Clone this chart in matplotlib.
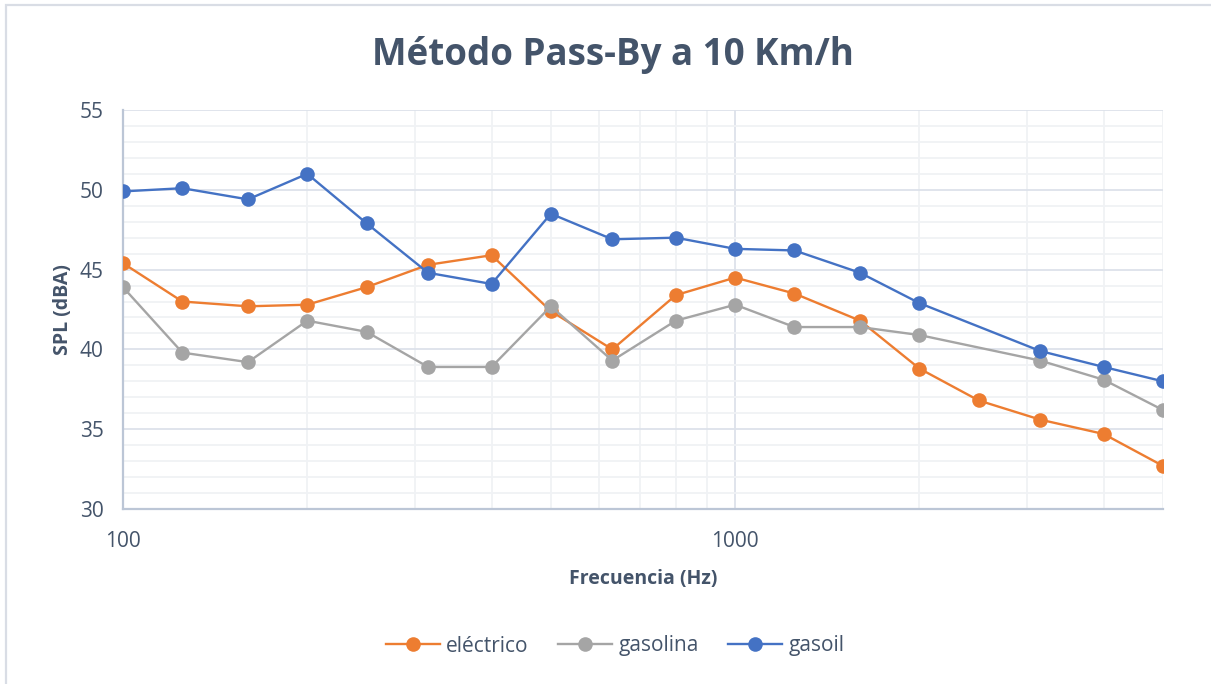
import matplotlib
matplotlib.use("Agg")
import matplotlib.pyplot as plt
from matplotlib.ticker import FixedLocator, NullFormatter, FixedFormatter
from matplotlib.patches import Rectangle

# Third-octave band centres (Hz) and sound pressure levels (dBA)
freq_electrico = [100, 125, 160, 200, 250, 315, 400, 500, 630, 800, 1000,
                  1250, 1600, 2000, 2500, 3150, 4000, 5000]
spl_electrico = [45.4, 43.0, 42.7, 42.8, 43.9, 45.3, 45.9, 42.4, 40.0, 43.4,
                 44.5, 43.5, 41.8, 38.8, 36.8, 35.6, 34.7, 32.7]

freq_gasolina = [100, 125, 160, 200, 250, 315, 400, 500, 630, 800, 1000,
                 1250, 1600, 2000, 3150, 4000, 5000]
spl_gasolina = [43.9, 39.8, 39.2, 41.8, 41.1, 38.9, 38.9, 42.7, 39.3, 41.8,
                42.8, 41.4, 41.4, 40.9, 39.3, 38.1, 36.2]

freq_gasoil = [100, 125, 160, 200, 250, 315, 400, 500, 630, 800, 1000,
               1250, 1600, 2000, 3150, 4000, 5000]
spl_gasoil = [49.9, 50.1, 49.4, 51.0, 47.9, 44.8, 44.1, 48.5, 46.9, 47.0,
              46.3, 46.2, 44.8, 42.9, 39.9, 38.9, 38.0]

series_names = ["eléctrico", "gasolina", "gasoil"]
x_tick_values = [100, 1000]
x_tick_labels = ["100", "1000"]
y_tick_values = [30, 35, 40, 45, 50, 55]

TEXT = "#44546A"
FONT = ["Open Sans", "DejaVu Sans"]
plt.rcParams["font.family"] = FONT

fig = plt.figure(figsize=(12.11, 6.84), dpi=100)
ax = fig.add_axes([123 / 1211, 1 - 509 / 684, (1163 - 123) / 1211, (509 - 110) / 684])

# outer chart frame (top and left edges visible)
fig.patches.append(Rectangle((6 / 1211, -0.1), 1.2, 1 - 5 / 684 + 0.1,
                             transform=fig.transFigure, fill=False,
                             edgecolor="#D9DDE5", linewidth=1.6))

series = [
    (freq_electrico, spl_electrico, "#ED7D31"),
    (freq_gasolina, spl_gasolina, "#A5A5A5"),
    (freq_gasoil, spl_gasoil, "#4472C4"),
]
for (fx, fy, col), name in zip(series, series_names):
    ax.plot(fx, fy, color=col, linewidth=1.7, marker="o", markersize=10.5,
            markeredgewidth=0, label=name, zorder=3)

ax.set_xscale("log")
ax.set_xlim(100, 5000)
ax.set_ylim(30, 55)

ax.xaxis.set_major_locator(FixedLocator(x_tick_values))
ax.xaxis.set_major_formatter(FixedFormatter(x_tick_labels))
minor_x = [m * d for d in (100, 1000) for m in range(2, 10) if m * d <= 5000]
ax.xaxis.set_minor_locator(FixedLocator(minor_x))
ax.xaxis.set_minor_formatter(NullFormatter())
ax.set_yticks(y_tick_values)
ax.yaxis.set_minor_locator(FixedLocator(range(30, 56)))

ax.grid(which="major", color="#DDE2EA", linewidth=1.3, zorder=0)
ax.grid(which="minor", color="#F0F2F5", linewidth=1.3, zorder=0)
ax.set_axisbelow(True)

for s in ("top", "right"):
    ax.spines[s].set_visible(False)
for s in ("left", "bottom"):
    ax.spines[s].set_color("#BCC6D6")
    ax.spines[s].set_linewidth(1.6)

ax.tick_params(which="both", length=0, labelsize=15, labelcolor=TEXT)
ax.tick_params(axis="y", pad=14)
ax.tick_params(axis="x", pad=16)

ax.set_xlabel("Frecuencia (Hz)", fontsize=14, fontweight="bold", color=TEXT, labelpad=12)
ax.set_ylabel("SPL (dBA)", fontsize=14, fontweight="bold", color=TEXT, labelpad=5)

fig.text(613 / 1211, 1 - 55 / 684, "Método Pass-By a 10 Km/h", ha="center", va="center",
         fontsize=26.5, fontweight="bold", color=TEXT)

fig.legend(loc="center", bbox_to_anchor=(615 / 1211, 1 - 646 / 684), ncol=3,
           frameon=False, fontsize=15, labelcolor=TEXT, handlelength=2.6,
           columnspacing=1.4, handletextpad=0.3)

fig.savefig("out.png", dpi=100, facecolor="white")
